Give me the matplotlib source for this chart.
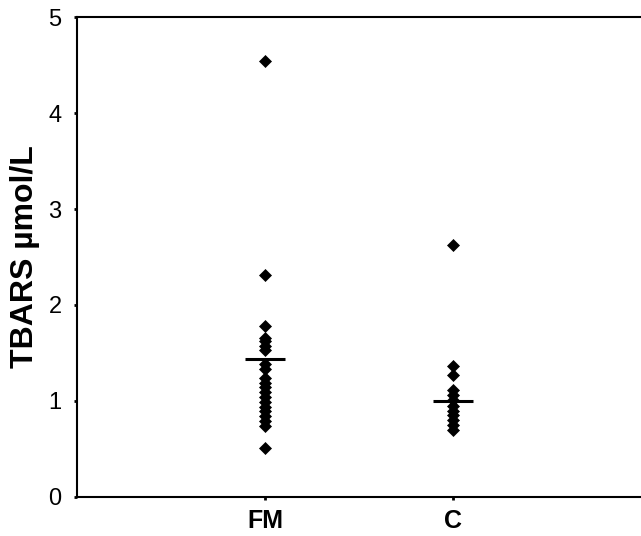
import matplotlib
matplotlib.use("Agg")
import matplotlib.pyplot as plt

# values
groups = ["FM", "C"]
fm_values = [4.54, 2.31, 1.78, 1.66, 1.62, 1.57, 1.53, 1.39, 1.33,
             1.24, 1.19, 1.14, 1.09, 1.04, 0.99, 0.94, 0.89, 0.84,
             0.79, 0.74, 0.51]
c_values = [2.62, 1.36, 1.27, 1.11, 1.06, 1.01, 0.95, 0.90, 0.85,
            0.80, 0.75, 0.70]
group_lines = [1.44, 1.00]

plt.rcParams['font.family'] = ['Liberation Sans', 'DejaVu Sans']

fig = plt.figure(figsize=(6.41, 5.36), dpi=100)
ax = fig.add_axes([0.12, 0.073, 0.88, 0.895])

for i, vals in enumerate([fm_values, c_values]):
    xs = [i + 1] * len(vals)
    ax.plot(xs, vals, linestyle='none', marker='D', markersize=6,
            color='black', markeredgewidth=0.5)
    ax.plot([i + 1 - 0.105, i + 1 + 0.105], [group_lines[i]] * 2,
            color='black', linewidth=2.2, solid_capstyle='butt')

ax.set_xlim(0, 3)
ax.set_ylim(0, 5)
ax.set_xticks([1, 2])
ax.set_xticklabels(groups, fontsize=18, fontweight='bold')
ax.set_yticks([0, 1, 2, 3, 4, 5])
ax.set_yticklabels(["0", "1", "2", "3", "4", "5"], fontsize=17)
ax.tick_params(axis='x', direction='out', length=2, width=2, pad=7)
ax.tick_params(axis='y', direction='out', length=2, width=2, pad=9)
ax.set_ylabel("TBARS µmol/L", fontsize=23, fontweight='bold', labelpad=6)

ax.spines['right'].set_visible(False)
for s in ['left', 'bottom', 'top']:
    ax.spines[s].set_linewidth(1.5)

fig.savefig("out.png", dpi=100)
